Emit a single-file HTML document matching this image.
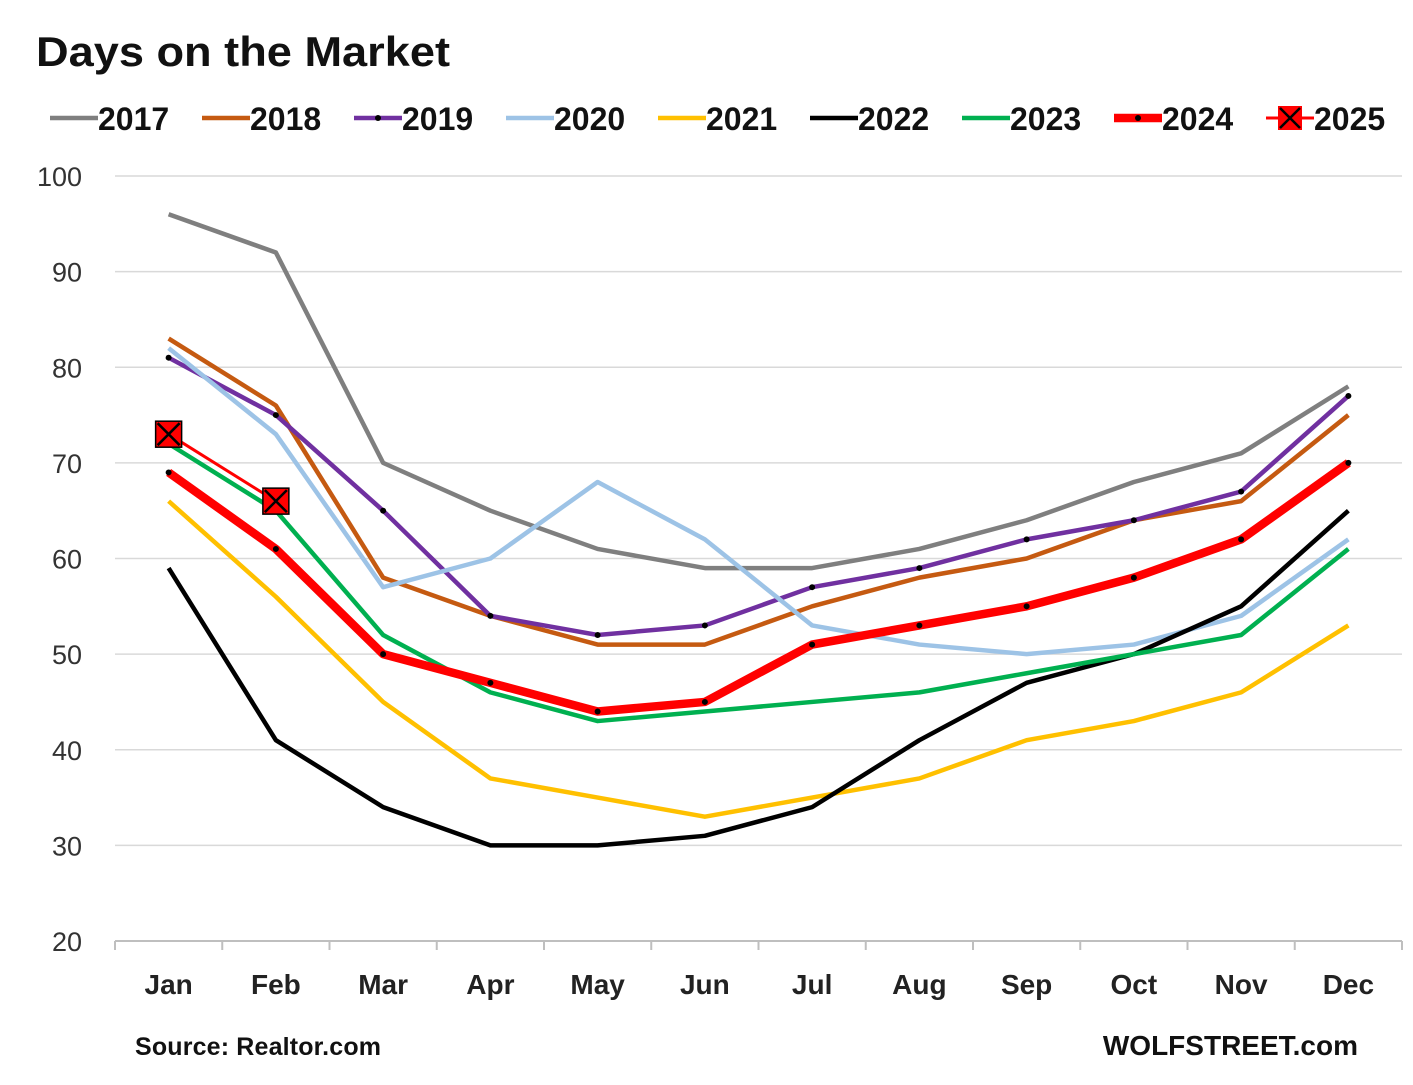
<!DOCTYPE html>
<html><head><meta charset="utf-8"><style>
body{margin:0;background:#fff;width:1413px;height:1080px;overflow:hidden;font-family:"Liberation Sans",sans-serif}
svg text{font-family:"Liberation Sans",sans-serif}
</style></head><body>
<svg id="chart" width="1413" height="1080" xmlns="http://www.w3.org/2000/svg">
<text x="36" y="66" font-size="42" font-weight="bold" fill="#111" textLength="414" lengthAdjust="spacingAndGlyphs">Days on the Market</text>
<g id="legend"></g>
<g id="grid"></g>
<g id="series"></g>
<text x="135" y="1055" font-size="25" font-weight="bold" fill="#111" textLength="246">Source: Realtor.com</text>
<text x="1358" y="1055" font-size="28" font-weight="bold" fill="#111" text-anchor="end">WOLFSTREET.com</text>
</svg>
<script>
const months=["Jan","Feb","Mar","Apr","May","Jun","Jul","Aug","Sep","Oct","Nov","Dec"];
const yTicks=[20,30,40,50,60,70,80,90,100];
const years=["2017","2018","2019","2020","2021","2022","2023","2024","2025"];
const s2017=[96,92,70,65,61,59,59,61,64,68,71,78];
const s2018=[83,76,58,54,51,51,55,58,60,64,66,75];
const s2019=[81,75,65,54,52,53,57,59,62,64,67,77];
const s2020=[82,73,57,60,68,62,53,51,50,51,54,62];
const s2021=[66,56,45,37,35,33,35,37,41,43,46,53];
const s2022=[59,41,34,30,30,31,34,41,47,50,55,65];
const s2023=[72,65,52,46,43,44,45,46,48,50,52,61];
const s2024=[69,61,50,47,44,45,51,53,55,58,62,70];
const s2025=[73,66];
const NS="http://www.w3.org/2000/svg";
const L=115,R=1402,T=176,B=941,ymin=20,ymax=100;
const step=(R-L)/months.length;
const x=i=>L+step*(i+0.5);
const y=v=>B-(v-ymin)/(ymax-ymin)*(B-T);
function mk(tag,attrs,parent){const e=document.createElementNS(NS,tag);for(const k in attrs)e.setAttribute(k,attrs[k]);parent.appendChild(e);return e;}
const grid=document.getElementById('grid');
yTicks.forEach(v=>{
  if(v>ymin){const g=mk('line',{x1:L,x2:R,y1:y(v),y2:y(v),stroke:'#d9d9d9','stroke-width':1.5},grid);
  
  }
  const t=mk('text',{x:82,y:y(v)+10,'font-size':27,fill:'#333','text-anchor':'end'},grid);t.textContent=v;
  
  
});
const ax=mk('line',{x1:L,x2:R,y1:B,y2:B,stroke:'#bfbfbf','stroke-width':2},grid);


for(let i=0;i<=months.length;i++){mk('line',{x1:L+step*i,x2:L+step*i,y1:B,y2:B+9,stroke:'#bfbfbf','stroke-width':2},grid);}
months.forEach((m,i)=>{const t=mk('text',{x:x(i),y:994,'font-size':28,'font-weight':'bold',fill:'#222','text-anchor':'middle'},grid);t.textContent=m;
  
  });
const styles=[
 {d:s2017,c:'#7f7f7f',w:4.5},{d:s2018,c:'#c55a11',w:4.5},{d:s2019,c:'#7030a0',w:4.5,dot:1},
 {d:s2020,c:'#9dc3e6',w:4.5},{d:s2021,c:'#ffc000',w:4.5},{d:s2022,c:'#000',w:4.5},
 {d:s2023,c:'#00b050',w:4.5},{d:s2024,c:'#ff0000',w:8.5,dot:1},{d:s2025,c:'#ff0000',w:3,box:1}];
const ser=document.getElementById('series');
styles.forEach((s,k)=>{
  const g=mk('g',{},ser);
  
  
  const p=mk('polyline',{points:s.d.map((v,i)=>x(i)+','+y(v)).join(' '),fill:'none',stroke:s.c,'stroke-width':s.w,'stroke-linejoin':'round'},g);
  
  
  s.d.forEach((v,i)=>{
    if(s.dot){mk('circle',{cx:x(i),cy:y(v),r:3,fill:'#000'},g);}
    if(s.box){const X=x(i),Y=y(v);mk('rect',{x:X-13,y:Y-13,width:26,height:26,fill:'#ff0000',stroke:'#000','stroke-width':1.5},g);
      mk('path',{d:`M${X-11} ${Y-11}L${X+11} ${Y+11}M${X+11} ${Y-11}L${X-11} ${Y+11}`,stroke:'#000','stroke-width':2.5},g);}
  });
});
const leg=document.getElementById('legend');
const lx=[50,202,354,506,658,810,962,1114,1266];
years.forEach((yr,k)=>{
  const s=styles[k],g=mk('g',{},leg);
  
  
  const X=lx[k];
  mk('line',{x1:X,x2:X+48,y1:118,y2:118,stroke:s.c,'stroke-width':s.w},g);
  if(s.dot)mk('circle',{cx:X+24,cy:118,r:3,fill:'#000'},g);
  if(s.box){mk('rect',{x:X+12,y:106,width:24,height:24,fill:'#ff0000'},g);mk('path',{d:`M${X+14} 108L${X+34} 128M${X+34} 108L${X+14} 128`,stroke:'#000','stroke-width':2.5},g);}
  const t=mk('text',{x:X+48,y:130,'font-size':32,'font-weight':'bold',fill:'#111'},g);t.textContent=yr;
});
</script>
</body></html>
